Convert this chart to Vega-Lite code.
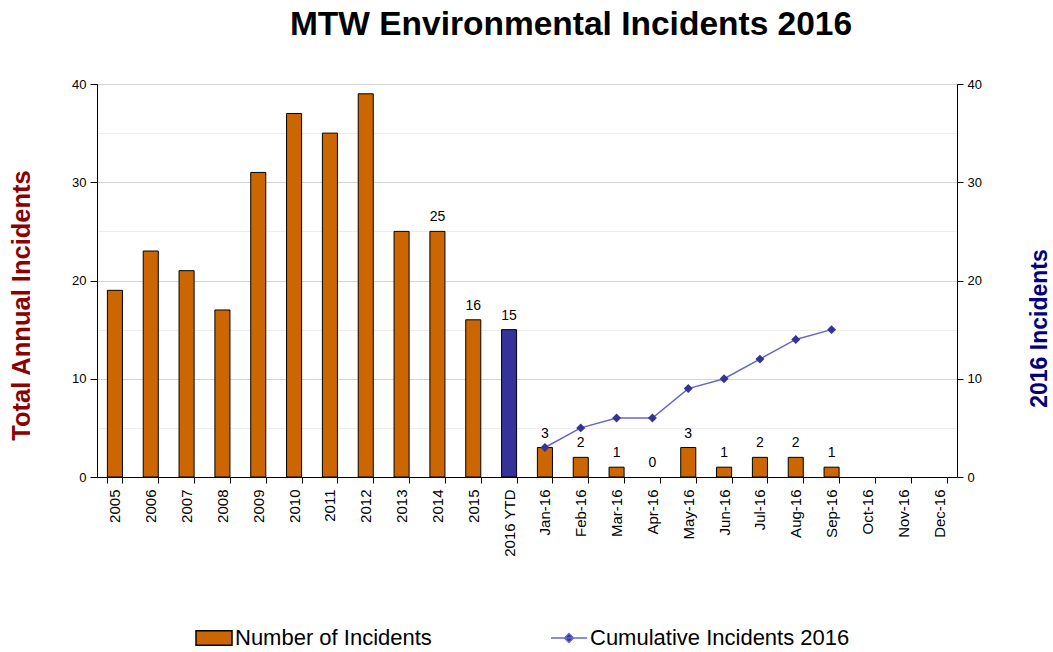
{
  "$schema": "https://vega.github.io/schema/vega-lite/v6.json",
  "width": 860,
  "height": 393,
  "autosize": {"type": "none"},
  "padding": {"left": 97, "top": 84, "right": 96, "bottom": 175},
  "background": "white",
  "title": {
    "text": "MTW Environmental Incidents 2016",
    "font": "Liberation Sans",
    "fontSize": 33.5,
    "fontWeight": "bold",
    "color": "black",
    "anchor": "middle",
    "dx": 44,
    "offset": 36
  },
  "config": {
    "view": {"stroke": "black", "strokeWidth": 1},
    "font": "Liberation Sans",
    "axis": {
      "domainColor": "black",
      "tickColor": "black",
      "labelColor": "black",
      "labelFont": "Liberation Sans"
    },
    "legend": {"padding": 0, "labelLimit": 500}
  },
  "data": {
    "values": [
      {"period": "2005", "incidents": 19, "series": "Number of Incidents", "cumulative": null, "showLabel": false},
      {"period": "2006", "incidents": 23, "series": "Number of Incidents", "cumulative": null, "showLabel": false},
      {"period": "2007", "incidents": 21, "series": "Number of Incidents", "cumulative": null, "showLabel": false},
      {"period": "2008", "incidents": 17, "series": "Number of Incidents", "cumulative": null, "showLabel": false},
      {"period": "2009", "incidents": 31, "series": "Number of Incidents", "cumulative": null, "showLabel": false},
      {"period": "2010", "incidents": 37, "series": "Number of Incidents", "cumulative": null, "showLabel": false},
      {"period": "2011", "incidents": 35, "series": "Number of Incidents", "cumulative": null, "showLabel": false},
      {"period": "2012", "incidents": 39, "series": "Number of Incidents", "cumulative": null, "showLabel": false},
      {"period": "2013", "incidents": 25, "series": "Number of Incidents", "cumulative": null, "showLabel": false},
      {"period": "2014", "incidents": 25, "series": "Number of Incidents", "cumulative": null, "showLabel": true},
      {"period": "2015", "incidents": 16, "series": "Number of Incidents", "cumulative": null, "showLabel": true},
      {"period": "2016 YTD", "incidents": 15, "series": "2016 YTD", "cumulative": null, "showLabel": true},
      {"period": "Jan-16", "incidents": 3, "series": "Number of Incidents", "cumulative": 3, "showLabel": true},
      {"period": "Feb-16", "incidents": 2, "series": "Number of Incidents", "cumulative": 5, "showLabel": true},
      {"period": "Mar-16", "incidents": 1, "series": "Number of Incidents", "cumulative": 6, "showLabel": true},
      {"period": "Apr-16", "incidents": 0, "series": "Number of Incidents", "cumulative": 6, "showLabel": true},
      {"period": "May-16", "incidents": 3, "series": "Number of Incidents", "cumulative": 9, "showLabel": true},
      {"period": "Jun-16", "incidents": 1, "series": "Number of Incidents", "cumulative": 10, "showLabel": true},
      {"period": "Jul-16", "incidents": 2, "series": "Number of Incidents", "cumulative": 12, "showLabel": true},
      {"period": "Aug-16", "incidents": 2, "series": "Number of Incidents", "cumulative": 14, "showLabel": true},
      {"period": "Sep-16", "incidents": 1, "series": "Number of Incidents", "cumulative": 15, "showLabel": true},
      {"period": "Oct-16", "incidents": null, "series": "Number of Incidents", "cumulative": null, "showLabel": false},
      {"period": "Nov-16", "incidents": null, "series": "Number of Incidents", "cumulative": null, "showLabel": false},
      {"period": "Dec-16", "incidents": null, "series": "Number of Incidents", "cumulative": null, "showLabel": false}
    ]
  },
  "encoding": {
    "x": {
      "field": "period",
      "type": "nominal",
      "sort": null,
      "scale": {
        "domain": ["2005", "2006", "2007", "2008", "2009", "2010", "2011", "2012", "2013", "2014", "2015", "2016 YTD", "Jan-16", "Feb-16", "Mar-16", "Apr-16", "May-16", "Jun-16", "Jul-16", "Aug-16", "Sep-16", "Oct-16", "Nov-16", "Dec-16"],
        "paddingInner": 0.58,
        "paddingOuter": 0.29
      },
      "axis": {
        "title": null,
        "labelAngle": -90,
        "labelFontSize": 15,
        "labelPadding": 6,
        "tickBand": "extent",
        "tickSize": 6,
        "domainColor": "black"
      }
    }
  },
  "layer": [
    {
      "layer": [
        {
          "mark": {"type": "bar", "stroke": "black"},
          "encoding": {
            "y": {
              "field": "incidents",
              "type": "quantitative",
              "scale": {"domain": [0, 40], "nice": false},
              "axis": {
                "title": "Total Annual Incidents",
                "titleFont": "Liberation Sans",
                "titleFontSize": 25.5,
                "titleFontWeight": "bold",
                "titleColor": "#8B0000",
                "titleX": -63,
                "titleY": 221,
                "titleBaseline": "bottom",
                "values": [0, 5, 10, 15, 20, 25, 30, 35, 40],
                "labelExpr": "datum.value % 10 === 0 ? datum.label : ''",
                "labelFontSize": 13,
                "labelPadding": 4,
                "tickSize": 7,
                "tickOpacity": {"condition": {"test": "datum.value % 10 === 0", "value": 1}, "value": 0},
                "grid": true,
                "gridColor": {"condition": {"test": "datum.value % 10 === 0", "value": "#d4d4d4"}, "value": "#ededed"},
                "gridWidth": 1
              }
            },
            "strokeWidth": {
              "condition": {"test": "datum.incidents === 0", "value": 0},
              "value": 1
            },
            "fill": {
              "field": "series",
              "type": "nominal",
              "scale": {"domain": ["Number of Incidents", "2016 YTD"], "range": ["#CC6600", "#333399"]},
              "legend": {
                "values": ["Number of Incidents"],
                "title": null,
                "orient": "none",
                "legendX": 98,
                "legendY": 535,
                "symbolType": "M-1,-0.4L1,-0.4L1,0.4L-1,0.4Z",
                "symbolSize": 1296,
                "symbolStrokeColor": "black",
                "symbolStrokeWidth": 1.5,
                "symbolOpacity": 1,
                "labelFont": "Liberation Sans",
                "labelFontSize": 22,
                "labelColor": "black",
                "labelOffset": 2,
                "labelLimit": 500
              }
            }
          }
        },
        {
          "transform": [{"filter": "datum.showLabel"}],
          "mark": {"type": "text", "baseline": "bottom", "dy": -7, "fontSize": 14, "color": "black", "font": "Liberation Sans"},
          "encoding": {
            "y": {"field": "incidents", "type": "quantitative"},
            "text": {"field": "incidents", "type": "quantitative"}
          }
        }
      ]
    },
    {
      "transform": [{"filter": "isValid(datum.cumulative)"}],
      "layer": [
        {
          "mark": {"type": "line", "strokeWidth": 1.5},
          "encoding": {
            "y": {
              "field": "cumulative",
              "type": "quantitative",
              "scale": {"domain": [0, 40], "nice": false},
              "axis": {
                "orient": "right",
                "title": "2016 Incidents",
                "titleFont": "Liberation Sans",
                "titleFontSize": 23,
                "titleFontWeight": "bold",
                "titleColor": "#000080",
                "titleAngle": 270,
                "titleX": 94,
                "titleY": 244,
                "titleBaseline": "bottom",
                "values": [0, 10, 20, 30, 40],
                "labelFontSize": 13,
                "labelPadding": 4,
                "tickSize": 6,
                "grid": false
              }
            },
            "stroke": {
              "datum": "Cumulative Incidents 2016",
              "scale": {"range": ["#6666CC"]},
              "legend": {
                "title": null,
                "orient": "none",
                "legendX": 453,
                "legendY": 535,
                "symbolType": "M-1,0L1,0M0,-0.25L0.25,0L0,0.25L-0.25,0Z",
                "symbolSize": 1296,
                "symbolStrokeWidth": 1.5,
                "symbolFillColor": "#333399",
                "labelFont": "Liberation Sans",
                "labelFontSize": 22,
                "labelColor": "black",
                "labelOffset": 2,
                "labelLimit": 500
              }
            }
          }
        },
        {
          "mark": {"type": "point", "shape": "diamond", "filled": true, "color": "#333399", "size": 80, "opacity": 1},
          "encoding": {
            "y": {"field": "cumulative", "type": "quantitative"}
          }
        }
      ]
    }
  ],
  "resolve": {"scale": {"y": "independent"}}
}
